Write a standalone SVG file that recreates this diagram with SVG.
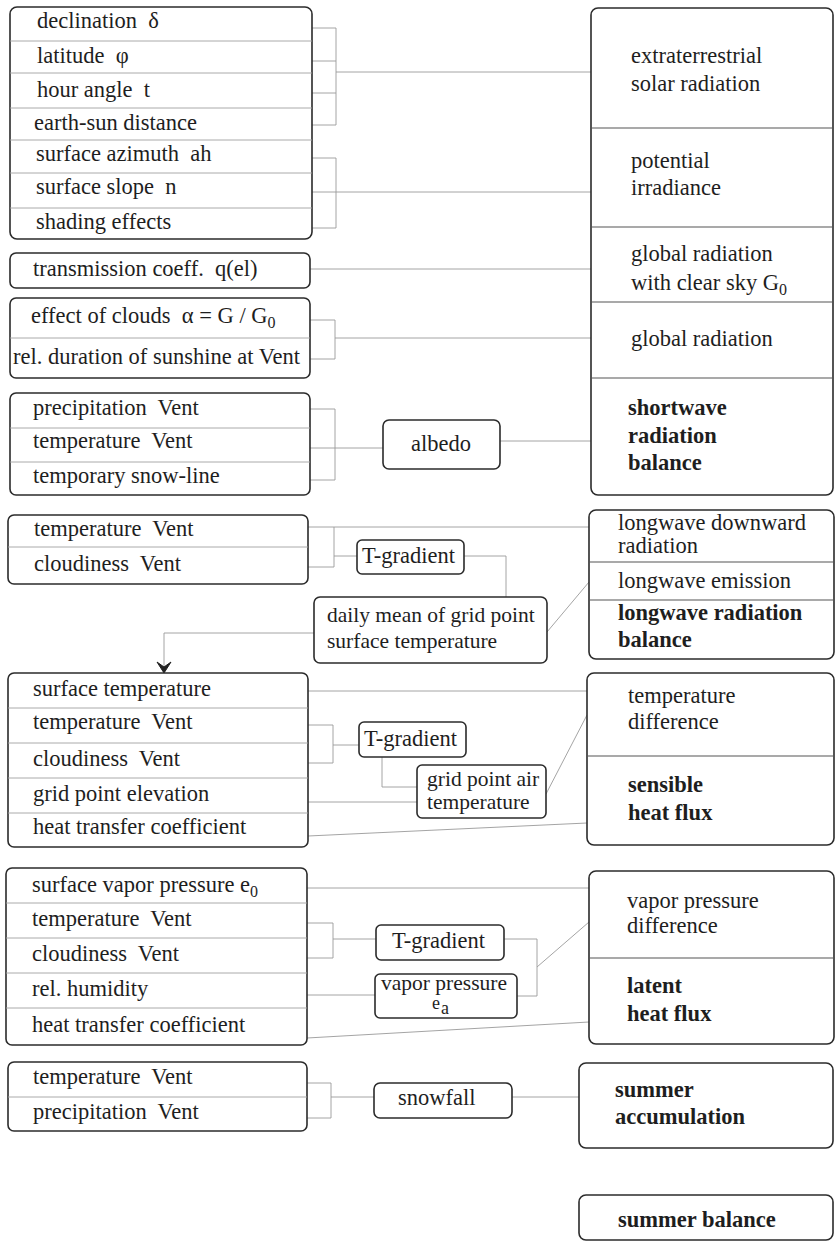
<svg xmlns="http://www.w3.org/2000/svg" width="837" height="1249" viewBox="0 0 837 1249" font-family="'Liberation Serif', 'Times New Roman', 'DejaVu Serif', serif">
<style>
.box{fill:#fff;stroke:#2b2b2b;stroke-width:1.6}
.dv{stroke:#a0a0a0;stroke-width:0.9;fill:none}
.rdv{stroke:#555;stroke-width:1.1;fill:none}
.con{stroke:#9a9a9a;stroke-width:0.9;fill:none}
.t{font-family:'Liberation Serif','Times New Roman',serif;font-size:22.5px;fill:#1e1e1e}
.t text{white-space:pre}
.s{font-size:21.5px}
.b{font-weight:bold}
.sub{font-size:16px}
</style>
<rect width="837" height="1249" fill="#fff"/>
<g id="connectors">
<path class="con" d="M312,28H336V125H312M312,61H336M312,93H336M336,72H591"/>
<path class="con" d="M312,158H336V228H312M312,192H591"/>
<path class="con" d="M310,269H591"/>
<path class="con" d="M310,320H335V359H310M335,338H591"/>
<path class="con" d="M310,409H335V480H310M310,448H383M500,441H591"/>
<path class="con" d="M308,527H589M308,567H334V527M334,556H357M464,556H506V597M314,633H164V668M547,632L589,582"/>
<path d="M157,662L164,673L171,662L164,667Z" fill="#222" stroke="#222" stroke-width="1"/>
<path class="con" d="M308,691H587M308,725H333V763H308M333,745H359M382,757V787H417M308,802H417M546,794L587,715M308,836L587,823"/>
<path class="con" d="M307,888H589M307,923H333V958H307M333,939H376M307,995H375M504,939H537V996H517M537,967L589,922M307,1038L589,1022"/>
<path class="con" d="M307,1083H331V1118H307M331,1097H374M512,1097H579"/>
</g>
<g class="t" xml:space="preserve">
<g id="n-astro">
<rect class="box" x="10" y="7" width="302" height="232" rx="7"/>
<path class="dv" d="M10,41H312M10,73H312M10,108H312M10,140H312M10,173H312M10,208H312"/>
<text x="37" y="28">declination  δ</text>
<text x="37" y="63">latitude  φ</text>
<text x="37" y="97">hour angle  t</text>
<text x="34" y="130">earth-sun distance</text>
<text x="36" y="161">surface azimuth  ah</text>
<text x="36" y="194">surface slope  n</text>
<text x="36" y="229">shading effects</text>
</g>
<g id="n-transmission">
<rect class="box" x="10" y="253" width="300" height="35" rx="6"/>
<text x="33" y="276">transmission coeff.  q(el)</text>
</g>
<g id="n-clouds">
<rect class="box" x="10" y="298" width="300" height="80" rx="6"/>
<path class="dv" d="M10,338H310"/>
<text x="31" y="323">effect of clouds  α = G / G<tspan class="sub" dy="5">0</tspan></text>
<text x="13" y="364">rel. duration of sunshine at Vent</text>
</g>
<g id="n-albedo-in">
<rect class="box" x="10" y="393" width="300" height="102" rx="6"/>
<path class="dv" d="M10,428H310M10,462H310"/>
<text x="33" y="415">precipitation  Vent</text>
<text x="33" y="448">temperature  Vent</text>
<text x="33" y="483">temporary snow-line</text>
</g>
<g id="n-albedo">
<rect class="box" x="383" y="420" width="117" height="49" rx="6"/>
<text x="441" y="451" text-anchor="middle">albedo</text>
</g>
<g id="n-lw-in">
<rect class="box" x="8" y="515" width="300" height="69" rx="6"/>
<path class="dv" d="M8,547H308"/>
<text x="34" y="536">temperature  Vent</text>
<text x="34" y="571">cloudiness  Vent</text>
</g>
<g id="n-tgrad1">
<rect class="box" x="357" y="540" width="107" height="34" rx="5"/>
<text x="362" y="563">T-gradient</text>
</g>
<g id="n-dailymean">
<rect class="box" x="314" y="597" width="233" height="66" rx="6"/>
<text class="s" x="327" y="622">daily mean of grid point</text>
<text class="s" x="327" y="648">surface temperature</text>
</g>
<g id="n-sens-in">
<rect class="box" x="8" y="673" width="300" height="174" rx="6"/>
<path class="dv" d="M8,708H308M8,743H308M8,778H308M8,813H308"/>
<text x="33" y="696">surface temperature</text>
<text x="33" y="729">temperature  Vent</text>
<text x="33" y="766">cloudiness  Vent</text>
<text x="33" y="801">grid point elevation</text>
<text x="33" y="834">heat transfer coefficient</text>
</g>
<g id="n-tgrad2">
<rect class="box" x="359" y="722" width="107" height="35" rx="5"/>
<text x="364" y="746">T-gradient</text>
</g>
<g id="n-airtemp">
<rect class="box" x="417" y="765" width="129" height="53" rx="5"/>
<text class="s" x="427" y="786">grid point air</text>
<text class="s" x="427" y="809">temperature</text>
</g>
<g id="n-lat-in">
<rect class="box" x="6" y="868" width="301" height="177" rx="6"/>
<path class="dv" d="M6,903H307M6,938H307M6,973H307M6,1008H307"/>
<text x="32" y="892">surface vapor pressure e<tspan class="sub" dy="5">0</tspan></text>
<text x="32" y="926">temperature  Vent</text>
<text x="32" y="961">cloudiness  Vent</text>
<text x="32" y="996">rel. humidity</text>
<text x="32" y="1032">heat transfer coefficient</text>
</g>
<g id="n-tgrad3">
<rect class="box" x="376" y="925" width="128" height="35" rx="5"/>
<text x="392" y="948">T-gradient</text>
</g>
<g id="n-vapor">
<rect class="box" x="375" y="974" width="142" height="44" rx="5"/>
<text class="s" x="381" y="990">vapor pressure</text>
<text x="432" y="1009" style="font-size:18px">e<tspan dx="1" dy="5">a</tspan></text>
</g>
<g id="n-snow-in">
<rect class="box" x="8" y="1062" width="299" height="69" rx="6"/>
<path class="dv" d="M8,1097H307"/>
<text x="33" y="1084">temperature  Vent</text>
<text x="33" y="1119">precipitation  Vent</text>
</g>
<g id="n-snowfall">
<rect class="box" x="374" y="1083" width="138" height="35" rx="6"/>
<text x="398" y="1105">snowfall</text>
</g>
<g id="n-shortwave">
<rect class="box" x="591" y="8" width="242" height="487" rx="7"/>
<path class="rdv" d="M591,128H833M591,227H833M591,302H833M591,378H833"/>
<text x="631" y="63">extraterrestrial</text>
<text x="631" y="91">solar radiation</text>
<text x="631" y="168">potential</text>
<text x="631" y="195">irradiance</text>
<text x="631" y="261">global radiation</text>
<text x="631" y="290">with clear sky G<tspan class="sub" dy="5">0</tspan></text>
<text x="631" y="346">global radiation</text>
<text class="b" x="628" y="415">shortwave</text>
<text class="b" x="628" y="443">radiation</text>
<text class="b" x="628" y="470">balance</text>
</g>
<g id="n-longwave">
<rect class="box" x="589" y="510" width="245" height="149" rx="7"/>
<path class="rdv" d="M589,562H834M589,600H834"/>
<text x="618" y="530">longwave downward</text>
<text x="618" y="553">radiation</text>
<text x="618" y="588">longwave emission</text>
<text class="b" x="618" y="620">longwave radiation</text>
<text class="b" x="618" y="647">balance</text>
</g>
<g id="n-sensible">
<rect class="box" x="587" y="673" width="247" height="172" rx="7"/>
<path class="rdv" d="M587,756H834"/>
<text x="628" y="703">temperature</text>
<text x="628" y="729">difference</text>
<text class="b" x="628" y="792">sensible</text>
<text class="b" x="628" y="820">heat flux</text>
</g>
<g id="n-latent">
<rect class="box" x="589" y="871" width="245" height="173" rx="7"/>
<path class="rdv" d="M589,958H834"/>
<text x="627" y="908">vapor pressure</text>
<text x="627" y="933">difference</text>
<text class="b" x="627" y="993">latent</text>
<text class="b" x="627" y="1021">heat flux</text>
</g>
<g id="n-accumulation">
<rect class="box" x="579" y="1063" width="254" height="85" rx="7"/>
<text class="b" x="615" y="1097">summer</text>
<text class="b" x="615" y="1124">accumulation</text>
</g>
<g id="n-balance">
<rect class="box" x="579" y="1195" width="254" height="45" rx="7"/>
<text class="b" x="618" y="1227">summer balance</text>
</g>
</g>
</svg>
